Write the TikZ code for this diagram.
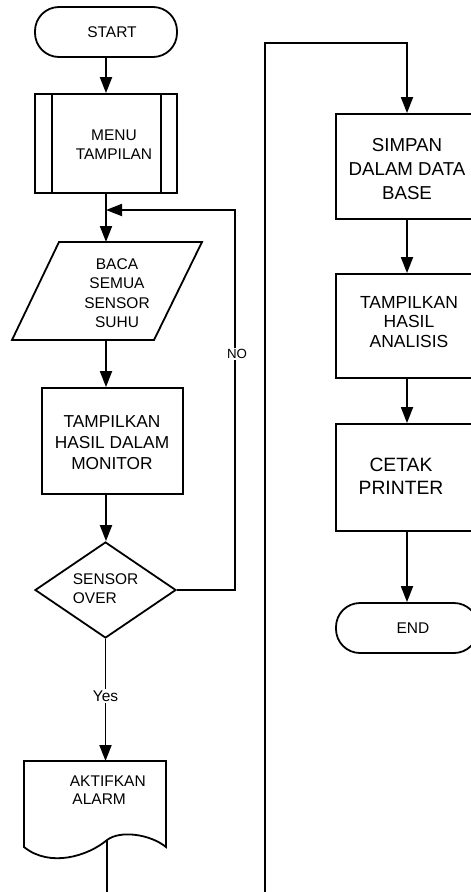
\documentclass[tikz,border=0pt]{standalone}
\usepackage{fontspec}
\setmainfont{Liberation Sans}
\usetikzlibrary{shapes.geometric,arrows.meta}
\begin{document}
\begin{tikzpicture}[x=1pt,y=-1pt,
  line width=1.8pt,
  arr/.style={-{Triangle[length=16pt,width=12pt]}},
  shp/.style={draw, inner sep=0pt, minimum width=142pt},
  term/.style={shp, rectangle, rounded corners=24pt, minimum height=50pt},
  procbox/.style={shp, rectangle},
  txt/.style={inner sep=0pt, align=center},
  lbl/.style={fill=white, inner sep=1.5pt}
]
\useasboundingbox (0,0) rectangle (471,892);
\clip (0,0) rectangle (471,892);

% ---------- left column ----------
\node[term] (start) at (106,32) {};
\node[txt, font=\fontsize{15.5}{19}\selectfont] (starttxt) at (112,32) {START};

\node[procbox, minimum height=99pt] (menu) at (106,143.5) {};
\draw ([xshift=18pt]menu.north west) -- ([xshift=18pt]menu.south west);
\draw ([xshift=-17pt]menu.north east) -- ([xshift=-17pt]menu.south east);
\node[txt, font=\fontsize{15.5}{19}\selectfont] (menutxt) at (114,145) {MENU\\TAMPILAN};

\coordinate (join) at (106,210);
\coordinate (readin) at (106,242);
\coordinate (readout) at (106,340);
\draw (59,242) -- (202,242) -- (154,340) -- (12,340) -- cycle;
\node[txt, font=\fontsize{15.5}{19.5}\selectfont] (readtxt) at (117,293) {BACA\\SEMUA\\SENSOR\\SUHU};

\node[procbox, minimum width=141pt, minimum height=106pt] (mon) at (112.5,441) {};
\node[txt, font=\fontsize{17.3}{21}\selectfont] (montxt) at (112,443) {TAMPILKAN\\HASIL DALAM\\MONITOR};

\node[draw, diamond, inner sep=0pt, minimum width=141pt, minimum height=96pt] (dec) at (105.5,590) {};
\node[txt, align=left, anchor=west, font=\fontsize{15.5}{19}\selectfont] (dectxt) at (72,589) {SENSOR\\OVER};

\coordinate (docin) at (105.5,761);
\draw (24,761) -- (166,761) -- (166,847)
  .. controls (150,834) and (120,830) .. (107,840)
  .. controls (88,856) and (50,868) .. (24,847) -- cycle;
\node[txt, align=left, anchor=west, font=\fontsize{15.5}{18}\selectfont] (doctxt) at (69,790) {AKTIFKAN\\\,ALARM};
\coordinate (docout) at (107,840);
\coordinate (leftend) at (107,892);

\draw[arr] (start.south) -- (start.south |- menu.north);
\draw[arr] (menu.south) -- (readin);
\draw[arr] (readout) -- (readout |- mon.north);
\draw[arr] (readout |- mon.south) -- (readout |- dec.north);
\draw[arr] (dec.south) -- (docin) node[lbl, pos=0.47, font=\fontsize{15.5}{19}\selectfont] (yes) {Yes};
\draw (docout) -- (leftend);

\coordinate (nocorner) at (235,590);
\coordinate (notop) at (235,210);
\draw[arr] (dec.east) -- (nocorner) -- (notop) -- (join);
\node[lbl, font=\fontsize{13.3}{16}\selectfont] (no) at (237,354) {NO};

% ---------- right column ----------
\coordinate (rstart) at (265,892);
\coordinate (rc1) at (265,43);
\coordinate (rc2) at (407,43);

\node[procbox, minimum height=105pt] (simpan) at (407,166.5) {};
\node[txt, font=\fontsize{18.7}{24}\selectfont] (simpantxt) at (407,169) {SIMPAN\\DALAM DATA\\BASE};

\node[procbox, minimum height=104pt] (anal) at (407,326) {};
\node[txt, font=\fontsize{17.5}{19.5}\selectfont] (analtxt) at (409,322) {TAMPILKAN\\HASIL\\ANALISIS};

\node[procbox, minimum height=107pt] (cetak) at (407,477.5) {};
\node[txt, font=\fontsize{19.3}{23}\selectfont] (cetaktxt) at (401,476) {CETAK\\PRINTER};

\node[term] (end) at (407,628) {};
\node[txt, font=\fontsize{15.5}{19}\selectfont] (endtxt) at (413,628) {END};

\draw[arr] (rstart) -- (rc1) -- (rc2) -- (simpan.north);
\draw[arr] (simpan.south) -- (anal.north);
\draw[arr] (anal.south) -- (cetak.north);
\draw[arr] (cetak.south) -- (end.north);
\end{tikzpicture}
\end{document}
